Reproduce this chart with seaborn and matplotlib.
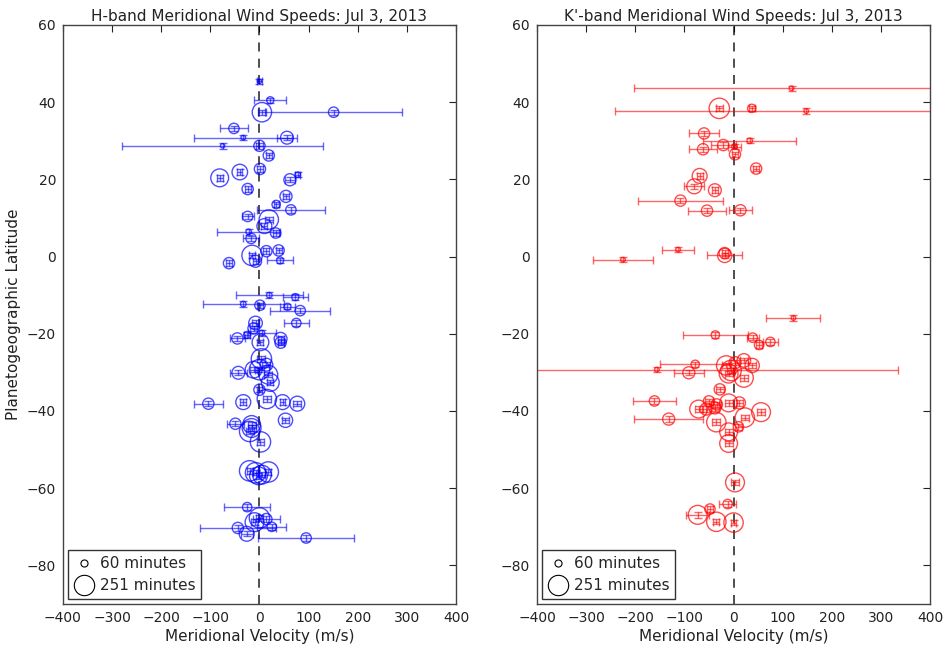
import numpy as np
import pandas as pd
import seaborn as sns
import matplotlib
matplotlib.use("Agg")
import matplotlib.pyplot as plt
from matplotlib.lines import Line2D

# ---------------- H-band data ----------------
h_lat = [45.4, 40.5, 37.4, 37.4, 33.2, 30.8, 30.8, 28.7, 28.7, 26.2,
         22.7, 21.9, 20.4, 21.2, 19.9, 17.5, 15.6, 13.5, 12.1, 10.4,
         9.6, 7.9, 6.4, 6.1, 4.7, 1.6, 1.4, 0.3, -1.7, -1.2,
         -1.0, -10.0, -10.5, -12.3, -12.6, -13.0, -14.0, -17.2, -17.2, -18.6,
         -19.8, -20.3, -21.2, -21.3, -22.3, -22.2, -26.5, -28.0, -29.3, -29.3,
         -30.1, -30.6, -32.6, -34.5, -36.9, -37.7, -37.7, -38.1, -38.1, -42.4,
         -43.3, -43.5, -44.4, -45.3, -48.0, -55.5, -56.0, -56.5, -55.8, -56.8,
         -64.9, -67.7, -68.0, -68.8, -70.0, -70.3, -71.8, -72.9]
h_vel = [0, 22, 5, 151, -52, -33, 56, -75, 0, 19,
         1, -40, -81, 78, 62, -24, 54, 34, 64, -24,
         19, 10, -22, 33, -17, 39, 14, -15, -62, -8,
         42, 20, 73, -33, 1, 57, 83, 75, -8, -12,
         5, -25, -45, 43, 43, 2, 4, 14, 0, -12,
         -43, 18, 22, 0, 15, -33, 47, 77, -104, 53,
         -49, -16, -16, -20, 2, -20, -8, 5, 18, -2,
         -25, 0, 14, -10, 25, -44, -26, 95]
h_err = [5, 33, 8, 140, 29, 100, 20, 205, 8, 6,
         6, 5, 6, 5, 10, 6, 7, 5, 70, 12,
         8, 6, 64, 6, 17, 6, 6, 6, 6, 6,
         26, 68, 25, 82, 6, 15, 61, 26, 8, 8,
         28, 6, 15, 6, 6, 6, 8, 8, 10, 8,
         17, 8, 6, 5, 8, 6, 6, 8, 30, 8,
         18, 8, 8, 8, 8, 6, 6, 6, 6, 6,
         47, 8, 27, 8, 30, 77, 12, 97]
h_min = [40, 60, 230, 90, 90, 45, 120, 40, 100, 100,
         100, 160, 200, 50, 110, 100, 110, 70, 90, 90,
         230, 150, 50, 90, 90, 100, 100, 251, 100, 110,
         60, 50, 60, 50, 90, 60, 90, 80, 130, 100,
         50, 60, 100, 120, 100, 180, 251, 120, 251, 180,
         120, 220, 200, 100, 230, 150, 150, 150, 100, 140,
         100, 200, 220, 251, 251, 251, 251, 220, 251, 200,
         80, 251, 100, 220, 80, 100, 150, 90]

# ---------------- K'-band data ----------------
k_lat = [43.6, 38.4, 38.4, 37.7, 31.9, 30.0, 28.9, 28.5, 27.8, 26.5,
         22.8, 20.9, 18.2, 17.2, 14.5, 11.9, 12.0, 1.8, -0.8, 0.3,
         0.9, -15.9, -20.3, -21.0, -22.9, -22.1, -27.9, -29.3, -30.1, -28.2,
         -29.5, -30.3, -26.9, -28.2, -31.4, -27.5, -34.4, -37.4, -37.5, -38.3,
         -37.9, -37.9, -39.5, -39.5, -39.2, -40.3, -41.7, -42.1, -42.9, -44.1,
         -45.4, -48.4, -58.5, -64.1, -65.4, -66.9, -68.7, -68.9]
k_vel = [118, -29, 37, 148, -60, 33, -21, 2, -62, 3,
         46, -69, -80, -38, -108, -54, 14, -113, -225, -18,
         -18, 122, -37, 39, 52, 75, -78, -156, -91, -15,
         -5, -10, 21, 38, 21, 3, -28, -161, -50, -34,
         -10, 12, -71, -56, -38, 56, 23, -132, -35, 10,
         -10, -10, 3, -12, -48, -73, -35, 0]
k_err = [320, 7, 6, 390, 30, 95, 25, 13, 28, 6,
         6, 6, 20, 6, 86, 38, 24, 33, 62, 35,
         6, 55, 66, 12, 6, 16, 71, 490, 30, 8,
         8, 8, 8, 8, 8, 8, 8, 44, 8, 8,
         8, 8, 8, 8, 8, 8, 8, 70, 8, 8,
         8, 8, 8, 17, 6, 23, 6, 6]
k_min = [45, 251, 70, 45, 100, 50, 100, 50, 100, 100,
         100, 150, 150, 120, 100, 100, 100, 45, 45, 140,
         100, 45, 70, 80, 80, 80, 70, 45, 110, 230,
         251, 220, 130, 140, 220, 110, 100, 90, 100, 100,
         200, 110, 200, 110, 110, 220, 230, 110, 230, 90,
         200, 200, 220, 80, 90, 220, 230, 230]

legend_minutes = [60, 251]
titles = ["H-band Meridional Wind Speeds: Jul 3, 2013",
          "K'-band Meridional Wind Speeds: Jul 3, 2013"]
colors = ["blue", "red"]


def marker_area(m):
    # area (pt^2) affine in observation minutes: 60 min -> 26, 251 min -> 215
    return np.clip(26 + (np.asarray(m, float) - 60) * (189.0 / 191.0), 10, None)


sns.set_style("white")
plt.rcParams['font.family'] = ['DejaVu Sans']

fig = plt.figure(figsize=(9.44, 6.52), dpi=100)
axL = fig.add_axes([0.0667, 0.0736, 0.4163, 0.8881])
axR = fig.add_axes([0.5689, 0.0736, 0.4163, 0.8881])

datasets = [(h_lat, h_vel, h_err, h_min), (k_lat, k_vel, k_err, k_min)]

for ax, (lat, vel, err, mins), col, title in zip([axL, axR], datasets, colors, titles):
    df = pd.DataFrame({"lat": lat, "vel": vel, "err": err, "min": mins})
    df["s"] = marker_area(df["min"])
    ax.errorbar(df["vel"], df["lat"], xerr=df["err"], yerr=0.7, fmt="none",
                ecolor=col, elinewidth=1.0, capsize=3, capthick=1.0, alpha=0.6,
                zorder=2)
    smin, smax = df["s"].min(), df["s"].max()
    sns.scatterplot(data=df, x="vel", y="lat", size="s", sizes=(smin, smax),
                    size_norm=(smin, smax), ax=ax, legend=False, zorder=3)
    pts = ax.collections[-1]
    pts.set_facecolor("none")
    pts.set_edgecolor(col)
    pts.set_linewidth(1.0)
    pts.set_alpha(0.7)
    ax.axvline(0, color="black", ls="--", lw=1.3, alpha=0.75, zorder=1, dashes=(5, 4))
    ax.set_xlim(-400, 400)
    ax.set_ylim(-90, 60)
    ax.set_xticks(range(-400, 401, 100))
    ax.set_yticks(range(-80, 61, 20))
    ax.tick_params(direction="in", top=True, right=True, length=5, width=0.8,
                   labelsize=10, colors="#222222", pad=5)
    for sp in ax.spines.values():
        sp.set_color("#444444")
        sp.set_linewidth(1.0)
    ax.set_title(title, fontsize=11, color="#222222", pad=3)
    ax.set_xlabel("Meridional Velocity (m/s)", fontsize=11, color="#222222", labelpad=3)
    ax.set_ylabel("")
    handles = [Line2D([], [], marker="o", ls="", mfc="none", mec="black", mew=0.8,
                      ms=float(np.sqrt(marker_area(m))))
               for m in legend_minutes]
    leg = ax.legend(handles, [f"{m} minutes" for m in legend_minutes], loc="lower left",
                    fontsize=11, frameon=True, fancybox=False, borderaxespad=0.3,
                    handletextpad=0.3, borderpad=0.4, labelspacing=0.45,
                    handlelength=1.4)
    leg.get_frame().set_edgecolor("black")
    leg.get_frame().set_linewidth(1.0)

axL.set_ylabel("Planetogeographic Latitude", fontsize=11, color="#222222")

fig.savefig("out.png", dpi=100, facecolor="white")
